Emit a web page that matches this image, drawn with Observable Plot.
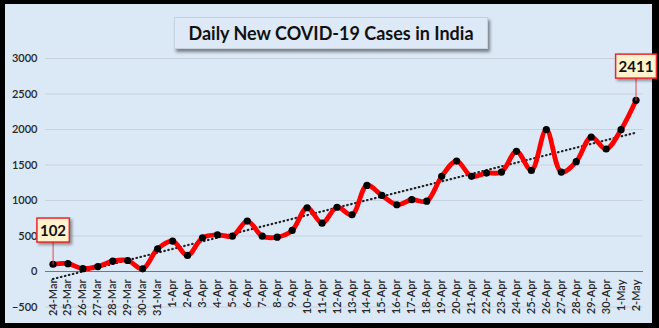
<!DOCTYPE html>
<html><head><meta charset="utf-8">
<script src="https://cdn.jsdelivr.net/npm/d3@7"></script>
<script src="https://cdn.jsdelivr.net/npm/@observablehq/plot@0.6"></script>
<style>
body{margin:0;background:#fff;}
#frame{position:relative;width:659px;height:328px;background:#000;overflow:hidden;}
#inner{position:absolute;left:5px;top:4px;width:647px;height:319px;background:#dbe8f6;}
#chart{position:absolute;left:0;top:0;}
#title{position:absolute;left:169px;top:13px;width:312px;height:30px;background:#dde9f7;border:1px solid #c5d2e0;box-shadow:2px 3px 3px rgba(0,0,0,0.45);font:bold 18px Lato,sans-serif;color:#111;display:flex;align-items:center;justify-content:center;white-space:nowrap;}
</style></head>
<body><div id="frame"><div id="inner"><div id="chart"></div><div id="title">Daily New COVID-19 Cases in India</div></div></div>
<script>
const dates = ["24-Mar","25-Mar","26-Mar","27-Mar","28-Mar","29-Mar","30-Mar","31-Mar",
  "1-Apr","2-Apr","3-Apr","4-Apr","5-Apr","6-Apr","7-Apr","8-Apr","9-Apr","10-Apr",
  "11-Apr","12-Apr","13-Apr","14-Apr","15-Apr","16-Apr","17-Apr","18-Apr","19-Apr","20-Apr",
  "21-Apr","22-Apr","23-Apr","24-Apr","25-Apr","26-Apr","27-Apr","28-Apr","29-Apr","30-Apr",
  "1-May","2-May"];
const cases = [102,110,40,70,146,155,38,320,
  428,226,475,517,498,710,498,484,578,898,
  681,905,799,1213,1072,940,1011,991,1340,1555,
  1340,1386,1400,1692,1424,1998,1400,1547,1894,1725,
  1998,2411];
const yTicks = [-500,0,500,1000,1500,2000,2500,3000];
const calloutDates = ["24-Mar","2-May"];

const data = dates.map((d, i) => ({i, date: d, cases: cases[i]}));
const labeled = data.filter(d => calloutDates.includes(d.date));
const CALLOUT_DY = -33;

const plot = Plot.plot({
  width: 647, height: 319,
  marginTop: 54, marginBottom: 16.5, marginLeft: 40, marginRight: 9,
  style: {background: "transparent", fontFamily: "Lato, sans-serif", fontSize: "11px", color: "#262626", overflow: "visible"},
  x: {type: "linear", domain: [-0.5, dates.length - 0.5], axis: null},
  y: {domain: [-500, 3000]},
  marks: [
    Plot.gridY(yTicks, {stroke: "#c8d2dd", strokeOpacity: 1}),
    Plot.axisY(yTicks, {tickSize: 0, tickPadding: 8, fontSize: 11, fontWeight: 600, fill: "#262626", label: null, tickFormat: d3.format("d")}),
    Plot.ruleY([0], {stroke: "#e8464a", strokeWidth: 1}),
    Plot.text(data, {x: "i", y: () => 0, text: "date", rotate: -90, textAnchor: "end", dy: 8, fontSize: 11, fontWeight: 600, fill: "#262626"}),
    Plot.linearRegressionY(data, {x: "i", y: "cases", ci: 0, stroke: "#222", strokeWidth: 2.2, strokeDasharray: "0.5 3.6", strokeLinecap: "round"}),
    Plot.line(data, {x: "i", y: "cases", stroke: "#ff0000", strokeWidth: 4.8, curve: "catmull-rom"}),
    Plot.dot(data, {x: "i", y: "cases", r: 3.6, fill: "#000", stroke: "none"}),
    Plot.text(labeled, {x: "i", y: "cases", text: d => String(d.cases), dy: CALLOUT_DY, fontSize: 15, fontWeight: "bold", fill: "#111"})
  ]
});
document.getElementById("chart").appendChild(plot);

// callout boxes + connectors, placed from the rendered callout texts
const groups = plot.querySelectorAll(":scope > g");
const calloutGroup = groups[groups.length - 1];
calloutGroup.querySelectorAll("text").forEach(t => {
  const b = t.getBBox();
  const tr = t.getAttribute("transform") || "";
  let ty = parseFloat(t.getAttribute("y"));
  if (isNaN(ty)) ty = 0;
  const cx = b.x + b.width / 2;
  const padX = 3, padY = 3;
  const ns = "http://www.w3.org/2000/svg";
  const line = document.createElementNS(ns, "line");
  line.setAttribute("x1", cx); line.setAttribute("x2", cx);
  line.setAttribute("y1", b.y + b.height + padY); line.setAttribute("y2", ty - CALLOUT_DY);
  line.setAttribute("stroke", "#e8464a"); line.setAttribute("stroke-width", 1);
  if (tr) line.setAttribute("transform", tr);
  const rect = document.createElementNS(ns, "rect");
  rect.setAttribute("x", b.x - padX); rect.setAttribute("y", b.y - padY);
  rect.setAttribute("width", b.width + 2 * padX); rect.setAttribute("height", b.height + 2 * padY);
  rect.setAttribute("fill", "#fff2cc"); rect.setAttribute("stroke", "#e8282c"); rect.setAttribute("stroke-width", 1.5);
  rect.setAttribute("style", "filter: drop-shadow(2px 2px 1.5px rgba(0,0,0,0.4))");
  if (tr) rect.setAttribute("transform", tr);
  t.parentNode.insertBefore(line, t);
  t.parentNode.insertBefore(rect, t);
});
</script>
</body></html>
